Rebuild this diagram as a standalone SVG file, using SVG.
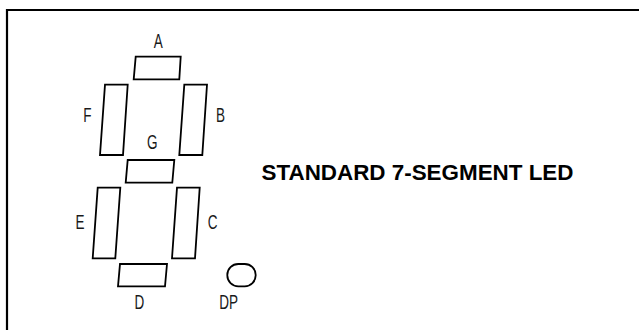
<svg xmlns="http://www.w3.org/2000/svg" width="639" height="330" viewBox="0 0 639 330">
<style>
.seg{fill:none;stroke:#000;stroke-width:1.8;stroke-linejoin:miter}
.lbl{font-family:"Liberation Sans",Arial,sans-serif;font-size:20.5px;fill:#1a1a1a;text-anchor:middle}
.title{font-family:"Liberation Sans",Arial,sans-serif;font-size:21.5px;font-weight:bold;fill:#000}
</style>
<rect width="639" height="330" fill="#fff"/>
<path d="M7,330 V10 H639" fill="none" stroke="#000" stroke-width="2.2"/>
<g id="seg-A"><polygon class="seg" points="135.7,56.7 180.7,56.7 179.3,79.3 133.7,79.3"/><text class="lbl" transform="translate(158.3,48.3) scale(0.66,1)">A</text></g>
<g id="seg-F"><polygon class="seg" points="105,84.7 127.7,84.7 123,155 100,155"/><text class="lbl" transform="translate(87.3,121.5) scale(0.66,1)">F</text></g>
<g id="seg-B"><polygon class="seg" points="184.3,84.7 207,84.7 202.3,155 179.3,155"/><text class="lbl" transform="translate(220.5,121.5) scale(0.66,1)">B</text></g>
<g id="seg-G"><polygon class="seg" points="127.7,160 174.3,160 172.3,182.7 125.7,182.7"/><text class="lbl" transform="translate(152.3,149) scale(0.66,1)">G</text></g>
<g id="seg-E"><polygon class="seg" points="97.7,187.7 120.3,187.7 115.3,258.3 92.7,258.3"/><text class="lbl" transform="translate(80,228.5) scale(0.66,1)">E</text></g>
<g id="seg-C"><polygon class="seg" points="177,187.7 199.7,187.7 195,258.3 172,258.3"/><text class="lbl" transform="translate(212.7,228.5) scale(0.66,1)">C</text></g>
<g id="seg-D"><polygon class="seg" points="120,264 167,264 165,286.3 118,286.3"/><text class="lbl" transform="translate(139.3,308.5) scale(0.66,1)">D</text></g>
<g id="seg-DP"><rect class="seg" x="227.3" y="264" width="28.4" height="22.3" rx="11" ry="11"/><text class="lbl" transform="translate(228.7,308.5) scale(0.66,1)">DP</text></g>
<g id="title"><text class="title" x="261.5" y="180" textLength="312" lengthAdjust="spacingAndGlyphs">STANDARD 7-SEGMENT LED</text></g>
<g id="connectors"/>
</svg>
